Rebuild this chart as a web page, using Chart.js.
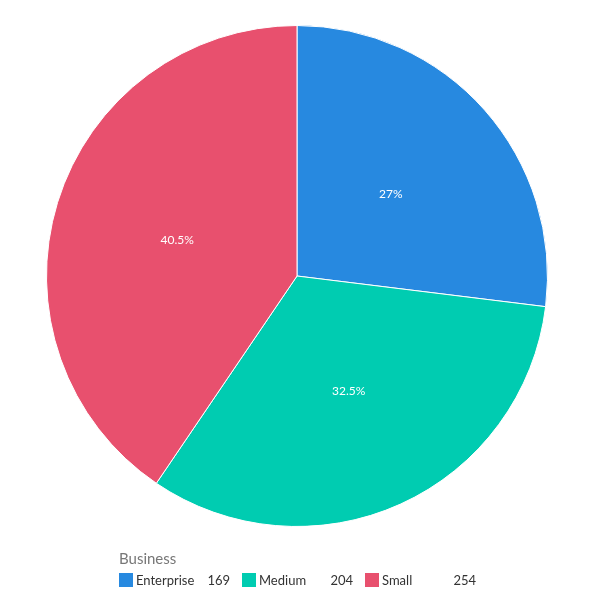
<!DOCTYPE html>
<html lang="en">
<head>
    <meta charset="UTF-8">
    <title>Business</title>
    <style>
        body {
            margin: 0;
            background: #ffffff;
            font-family: Lato, sans-serif;
        }
        #wrap {
            position: relative;
            width: 600px;
            height: 552px;
        }
        #legend {
            position: absolute;
            left: 119px;
            top: 549px;
            color: #333;
            font-size: 13px;
        }
        #legend .title {
            color: #777;
            font-size: 15px;
            margin-bottom: 5px;
        }
        #legend .items {
            display: flex;
        }
        #legend .item {
            display: flex;
            align-items: center;
            width: 111px;
            margin-right: 12px;
        }
        #legend .box {
            width: 14px;
            height: 14px;
            margin-right: 3px;
        }
        #legend .val {
            margin-left: auto;
        }
    </style>
    <script src="https://cdn.jsdelivr.net/npm/chart.js"></script>
</head>
<body>
    <div id="wrap"><canvas id="pieChart"></canvas></div>
    <div id="legend"></div>
    <script>
        const legendTitle = 'Business';
        const categories = ['Enterprise', 'Medium', 'Small'];
        const values = [169, 204, 254];
        const colors = ['#2789e0', '#00ccb1', '#e8506e'];

        const total = values.reduce((a, b) => a + b, 0);

        // percentage labels in the middle of each slice
        const sliceLabels = {
            id: 'sliceLabels',
            afterDatasetsDraw(chart) {
                const ctx = chart.ctx;
                const meta = chart.getDatasetMeta(0);
                ctx.save();
                ctx.fillStyle = '#ffffff';
                ctx.font = '12px Lato';
                ctx.textAlign = 'center';
                ctx.textBaseline = 'middle';
                meta.data.forEach((arc, i) => {
                    const pos = arc.tooltipPosition();
                    const pct = Math.round(values[i] / total * 1000) / 10;
                    ctx.fillText(pct + '%', pos.x, pos.y + 1);
                });
                ctx.restore();
            }
        };

        new Chart(document.getElementById('pieChart'), {
            type: 'pie',
            data: {
                labels: categories,
                datasets: [{
                    data: values,
                    backgroundColor: colors,
                    borderColor: '#ffffff',
                    borderWidth: 1
                }]
            },
            options: {
                responsive: true,
                maintainAspectRatio: false,
                animation: false,
                layout: { padding: { top: 25, bottom: 25, left: 22, right: 28 } },
                plugins: {
                    legend: { display: false },
                    tooltip: { enabled: false }
                }
            },
            plugins: [sliceLabels]
        });

        // html legend
        const legend = document.getElementById('legend');
        let html = '<div class="title">' + legendTitle + '</div><div class="items">';
        categories.forEach((c, i) => {
            html += '<div class="item"><span class="box" style="background:' + colors[i] + '"></span>' +
                '<span>' + c + '</span><span class="val">' + values[i] + '</span></div>';
        });
        html += '</div>';
        legend.innerHTML = html;
    </script>
</body>
</html>
